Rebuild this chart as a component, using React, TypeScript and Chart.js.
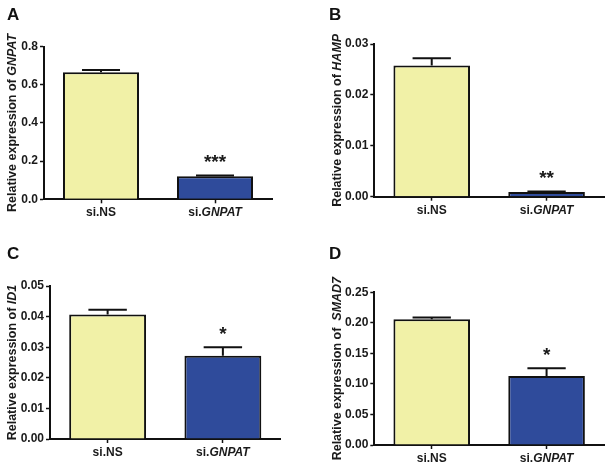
import React, { useEffect, useRef } from "react";
import { Chart, registerables } from "chart.js";

Chart.register(...registerables);

const FONT = '"Liberation Sans", Arial, Helvetica, sans-serif';
Chart.defaults.font.family = FONT;

// ---------- data ----------
const categories = ["si.NS", "si.GNPAT"];
const italicTerms = ["GNPAT", "HAMP", "ID1", "SMAD7"];
const barColors = ["#F1F1A7", "#2F4B9B"];

const titleA = "Relative expression of GNPAT";
const meanA = [0.665, 0.121];
const semA = [0.012, 0.004];
const sigA = ["", "***"];
const yTickValuesA = [0, 0.2, 0.4, 0.6, 0.8];
const yTickLabelsA = ["0.0", "0.2", "0.4", "0.6", "0.8"];

const titleB = "Relative expression of HAMP";
const meanB = [0.0258, 0.0009];
const semB = [0.0014, 0.0001];
const sigB = ["", "**"];
const yTickValuesB = [0, 0.01, 0.02, 0.03];
const yTickLabelsB = ["0.00", "0.01", "0.02", "0.03"];

const titleC = "Relative expression of ID1";
const meanC = [0.0407, 0.0272];
const semC = [0.0015, 0.0028];
const sigC = ["", "*"];
const yTickValuesC = [0, 0.01, 0.02, 0.03, 0.04, 0.05];
const yTickLabelsC = ["0.00", "0.01", "0.02", "0.03", "0.04", "0.05"];

const titleD = "Relative expression of  SMAD7";
const meanD = [0.2058, 0.113];
const semD = [0.003, 0.0126];
const sigD = ["", "*"];
const yTickValuesD = [0, 0.05, 0.1, 0.15, 0.2, 0.25];
const yTickLabelsD = ["0.00", "0.05", "0.10", "0.15", "0.20", "0.25"];

// ---------- layout (canvas-local pixels) ----------
const W = 306;
const H = 235;

type Layout = {
  left: number; right: number; top: number; bottom: number;
  titleX: number; letter: string; letterX: number; letterY: number;
};

type Panel = {
  title: string; mean: number[]; sem: number[]; sig: string[];
  tickValues: number[]; tickLabels: string[]; layout: Layout;
  posX: number; posY: number;
};

const panels: Panel[] = [
  {
    title: titleA, mean: meanA, sem: semA, sig: sigA,
    tickValues: yTickValuesA, tickLabels: yTickLabelsA,
    layout: { left: 44, right: 272, top: 46.5, bottom: 199.3, titleX: 12.7, letter: "A", letterX: 7, letterY: 20 },
    posX: 0, posY: 0,
  },
  {
    title: titleB, mean: meanB, sem: semB, sig: sigB,
    tickValues: yTickValuesB, tickLabels: yTickLabelsB,
    layout: { left: 68.3, right: 298, top: 44, bottom: 196.7, titleX: 31.7, letter: "B", letterX: 23, letterY: 20 },
    posX: 306, posY: 0,
  },
  {
    title: titleC, mean: meanC, sem: semC, sig: sigC,
    tickValues: yTickValuesC, tickLabels: yTickLabelsC,
    layout: { left: 50, right: 280.5, top: 51, bottom: 204, titleX: 13, letter: "C", letterX: 7, letterY: 24 },
    posX: 0, posY: 235,
  },
  {
    title: titleD, mean: meanD, sem: semD, sig: sigD,
    tickValues: yTickValuesD, tickLabels: yTickLabelsD,
    layout: { left: 68.3, right: 298, top: 57.3, bottom: 210, titleX: 31.7, letter: "D", letterX: 23, letterY: 24 },
    posX: 306, posY: 235,
  },
];

// ---------- helpers ----------
type Seg = { t: string; it: boolean };

function toSegments(text: string): Seg[] {
  const parts: Seg[] = [];
  let rest = text;
  while (rest.length) {
    let idx = -1;
    let term = "";
    for (const w of italicTerms) {
      const k = rest.indexOf(w);
      if (k >= 0 && (idx < 0 || k < idx)) { idx = k; term = w; }
    }
    if (idx < 0) { parts.push({ t: rest, it: false }); break; }
    if (idx > 0) parts.push({ t: rest.slice(0, idx), it: false });
    parts.push({ t: term, it: true });
    rest = rest.slice(idx + term.length);
  }
  return parts;
}

function drawMixed(ctx: CanvasRenderingContext2D, text: string, cx: number, cy: number, size: number, rotate: boolean) {
  const segs = toSegments(text);
  ctx.save();
  ctx.translate(cx, cy);
  if (rotate) ctx.rotate(-Math.PI / 2);
  const fontOf = (it: boolean) => `${it ? "italic " : ""}bold ${size}px ${FONT}`;
  let total = 0;
  const widths = segs.map((s) => {
    ctx.font = fontOf(s.it);
    const w = ctx.measureText(s.t).width;
    total += w;
    return w;
  });
  let x = -total / 2;
  ctx.textBaseline = "middle";
  ctx.textAlign = "left";
  ctx.fillStyle = "#1a1a1a";
  segs.forEach((s, i) => {
    ctx.font = fontOf(s.it);
    ctx.fillText(s.t, x, 0);
    x += widths[i];
  });
  ctx.restore();
}

function PanelChart({ p }: { p: Panel }) {
  const ref = useRef<HTMLCanvasElement | null>(null);

  useEffect(() => {
    if (!ref.current) return;
    const L = p.layout;

    const annot = {
      id: "annot",
      afterDatasetsDraw(chart: any) {
        const ctx: CanvasRenderingContext2D = chart.ctx;
        const ys = chart.scales.y;
        const meta = chart.getDatasetMeta(0);
        meta.data.forEach((bar: any, i: number) => {
          const barTop = ys.getPixelForValue(p.mean[i]);
          const top = ys.getPixelForValue(p.mean[i] + p.sem[i]);
          const half = bar.width / 4;
          ctx.save();
          ctx.strokeStyle = "#111";
          ctx.lineWidth = 2;
          ctx.beginPath();
          ctx.moveTo(bar.x, barTop);
          ctx.lineTo(bar.x, top);
          ctx.moveTo(bar.x - half, top);
          ctx.lineTo(bar.x + half, top);
          ctx.stroke();
          const s = p.sig[i];
          if (s) {
            ctx.font = `bold 19px ${FONT}`;
            ctx.textAlign = "center";
            ctx.textBaseline = "alphabetic";
            ctx.fillStyle = "#1a1a1a";
            const m = ctx.measureText(s);
            const cy = top - 17;
            const base = cy + (m.actualBoundingBoxAscent - m.actualBoundingBoxDescent) / 2;
            ctx.fillText(s, bar.x, base);
          }
          ctx.restore();
        });
      },
      afterDraw(chart: any) {
        const ctx: CanvasRenderingContext2D = chart.ctx;
        const area = chart.chartArea;
        ctx.save();
        ctx.font = `bold 17px ${FONT}`;
        ctx.fillStyle = "#111";
        ctx.textAlign = "left";
        ctx.textBaseline = "alphabetic";
        ctx.fillText(L.letter, L.letterX, L.letterY);
        ctx.restore();
        drawMixed(ctx, p.title, L.titleX, (area.top + area.bottom) / 2, 12.5, true);
        const xs = chart.scales.x;
        categories.forEach((c, i) => {
          drawMixed(ctx, c, xs.getPixelForTick(i), area.bottom + 13.5, 12, false);
        });
      },
    };

    const chart = new Chart(ref.current, {
      type: "bar",
      data: {
        labels: categories,
        datasets: [
          {
            data: p.mean,
            backgroundColor: barColors,
            borderColor: "#111",
            borderWidth: 2,
            categoryPercentage: 0.667,
            barPercentage: 1,
          },
        ],
      },
      options: {
        responsive: false,
        animation: false,
        devicePixelRatio: 1,
        events: [],
        layout: { padding: { top: L.top, right: W - L.right, left: 0, bottom: 0 } },
        plugins: { legend: { display: false }, tooltip: { enabled: false } },
        scales: {
          x: {
            type: "category",
            offset: true,
            grid: {
              display: true, drawOnChartArea: false, drawTicks: true,
              tickLength: 4, tickWidth: 1.5, tickColor: "#111", offset: false,
            },
            border: { display: true, color: "#111", width: 2 },
            ticks: { color: "rgba(0,0,0,0)", font: { size: 12, weight: "bold" } },
            afterFit: (s: any) => { s.height = H - L.bottom; },
          },
          y: {
            min: p.tickValues[0],
            max: p.tickValues[p.tickValues.length - 1],
            afterBuildTicks: (s: any) => { s.ticks = p.tickValues.map((v) => ({ value: v })); },
            ticks: {
              callback: (_v: any, i: number) => p.tickLabels[i],
              color: "#1a1a1a",
              font: { size: 12, weight: "bold" },
              padding: 2,
            },
            grid: {
              display: true, drawOnChartArea: false, drawTicks: true,
              tickLength: 4, tickWidth: 1.5, tickColor: "#111",
            },
            border: { display: true, color: "#111", width: 2 },
            afterFit: (s: any) => { s.width = L.left; },
          },
        },
      } as any,
      plugins: [annot as any],
    });
    return () => chart.destroy();
  }, [p]);

  return (
    <canvas
      ref={ref}
      width={W}
      height={H}
      style={{ position: "absolute", left: p.posX, top: p.posY, width: W, height: H }}
    />
  );
}

export default function App() {
  return (
    <div style={{ position: "fixed", left: 0, top: 0, width: 612, height: 470, background: "#fff", overflow: "hidden" }}>
      {panels.map((p, i) => (
        <PanelChart key={i} p={p} />
      ))}
    </div>
  );
}
